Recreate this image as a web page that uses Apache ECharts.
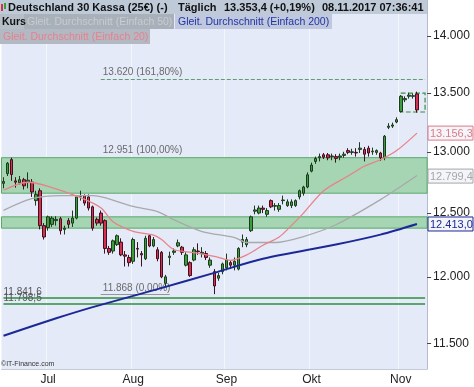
<!DOCTYPE html>
<html><head><meta charset="utf-8">
<script src="https://cdn.jsdelivr.net/npm/echarts@6/dist/echarts.min.js"></script>
<style>html,body{margin:0;padding:0;background:#fff}#c{width:474px;height:387px}</style>
</head><body><div id="c"></div><script>
// ---- data ----
const dates = ['16.06','19.06','20.06','21.06','22.06','23.06','26.06','27.06','28.06','29.06','30.06',
'03.07','04.07','05.07','06.07','07.07','10.07','11.07','12.07','13.07','14.07','17.07','18.07','19.07','20.07','21.07','24.07','25.07','26.07','27.07','28.07','31.07',
'01.08','02.08','03.08','04.08','07.08','08.08','09.08','10.08','11.08','14.08','15.08','16.08','17.08','18.08','21.08','22.08','23.08','24.08','25.08','28.08','29.08','30.08','31.08',
'01.09','04.09','05.09','06.09','07.09','08.09','11.09','12.09','13.09','14.09','15.09','18.09','19.09','20.09','21.09','22.09','25.09','26.09','27.09','28.09','29.09',
'02.10','03.10','04.10','05.10','06.10','09.10','10.10','11.10','12.10','13.10','16.10','17.10','18.10','19.10','20.10','23.10','24.10','25.10','26.10','27.10','30.10','31.10',
'01.11','02.11','03.11','06.11','07.11','08.11','09.11'];
// [open, close, low, high]
const kurs = [
[12740,12755,12700,12790],[12820,12905,12800,12915],[12935,12812,12760,12951],[12760,12750,12705,12790],[12745,12770,12730,12800],[12770,12720,12690,12785],[12750,12765,12700,12830],[12750,12670,12630,12775],[12600,12650,12560,12680],[12680,12400,12370,12700],[12400,12310,12290,12420],
[12385,12470,12360,12480],[12410,12460,12390,12475],[12440,12450,12400,12475],[12455,12360,12330,12470],[12370,12380,12330,12400],[12440,12410,12380,12460],[12420,12460,12390,12520],[12460,12630,12450,12640],[12635,12640,12600,12680],[12640,12580,12560,12650],[12630,12540,12520,12650],[12550,12380,12360,12560],[12450,12420,12400,12465],[12500,12420,12400,12520],[12440,12220,12180,12450],[12220,12190,12170,12240],[12200,12280,12180,12290],[12250,12320,12240,12330],[12270,12170,12160,12300],[12170,12160,12080,12200],[12150,12110,12080,12170],
[12120,12290,12100,12305],[12220,12215,12150,12270],[12180,12170,12080,12200],[12140,12300,12130,12320],[12320,12240,12230,12330],[12240,12290,12230,12310],[12210,12140,12120,12230],[12190,12000,11990,12200],[11950,12000,11930,12015],[12150,12160,12090,12195],[12190,12200,12170,12220],[12240,12265,12230,12290],[12230,12190,12170,12240],[12090,12170,12080,12190],[12110,12010,12000,12120],[12130,12210,12120,12230],[12200,12195,12170,12260],[12180,12190,12150,12230],[12180,12150,12130,12200],[12090,12130,12070,12150],[12040,11930,11868,12060],[11990,12010,11970,12030],[12040,12100,12020,12110],
[12070,12130,12050,12180],[12110,12090,12060,12130],[12090,12120,12050,12150],[12060,12220,12050,12230],[12270,12290,12230,12330],[12250,12290,12230,12310],[12360,12470,12350,12480],[12515,12525,12490,12560],[12500,12540,12490,12560],[12540,12530,12500,12560],[12490,12520,12470,12540],[12600,12550,12540,12610],[12555,12560,12520,12580],[12530,12560,12510,12580],[12600,12605,12570,12640],[12560,12590,12550,12610],[12560,12590,12540,12610],[12560,12600,12550,12610],[12630,12680,12610,12690],[12660,12710,12640,12720],[12710,12810,12700,12830],
[12840,12890,12830,12910],[12920,12945,12900,12960],[12950,12960,12920,12985],[12975,12955,12940,12990],[12975,12950,12930,12990],[12960,12965,12930,12985],[12960,12945,12910,12980],[12955,12965,12930,12985],[12970,12980,12950,13000],[13010,12995,12980,13030],[12995,13000,12975,13025],[12995,12990,12960,13030],[13020,13030,12990,13080],[13020,12980,12920,13040],[13030,12990,12960,13050],[13000,13005,12975,13035],[12995,13010,12975,13020],[12990,12950,12925,13000],[12950,13130,12930,13140],[13205,13215,13190,13240],[13215,13225,13200,13245],[13250,13270,13240,13290],
[13340,13470,13330,13480],[13440,13450,13420,13470],[13470,13480,13450,13500],[13470,13475,13450,13495],[13490,13353,13330,13510]
];
const ma20 = [['16.06',12684],['26.06',12749],['03.07',12716],['13.07',12624],['20.07',12542],['25.07',12431],['01.08',12355],['08.08',12325],['10.08',12290],['15.08',12212],['22.08',12188],['29.08',12159],['04.09',12128],['08.09',12170],['14.09',12245],['20.09',12310],['25.09',12400],['28.09',12500],['05.10',12680],['13.10',12800],['19.10',12880],['25.10',12934],['31.10',13010],['07.11',13156]];
const ma50 = [['16.06',12522],['27.06',12616],['06.07',12640],['18.07',12640],['21.07',12624],['01.08',12553],['09.08',12512],['15.08',12447],['24.08',12353],['05.09',12306],['08.09',12267],['19.09',12267],['28.09',12314],['10.10',12407],['25.10',12608],['07.11',12804]];
const ma200 = [['16.06',11556],['05.07',11686],['18.07',11770],['09.08',11906],['29.08',12031],['14.09',12140],['10.10',12251],['25.10',12329],['07.11',12413]];
const lastValues = [13156.3, 12799.4, 12413.0];
const yTicks = [11500,12000,12500,13000,13500,14000];
const yRange = [11313, 14326];
const monthTicks = {'03.07':'Jul','01.08':'Aug','01.09':'Sep','02.10':'Okt','01.11':'Nov'};
const bands = [[12951,12660],[12470,12380]];
const fibLevels = [13620, 12951, 11868];
const fibLabels = ['13.620 (161,80%)','12.951 (100,00%)','11.868 (0,00%)'];
const levels = [11841.6, 11798.5];
const boxHigh = 13497, boxLow = 13335;

// ---- chart ----
const L = Math.log;
function de(n, d){ const s = n.toFixed(d).split('.'); const i = s[0].replace(/\B(?=(\d{3})+(?!\d))/g,'.'); return d ? i+','+s[1] : i; }
const candleData = dates.map((d,i)=> i < kurs.length ? kurs[i].map(L) : '-');
const toLine = arr => arr.map(([d,v])=>[d, L(v)]);
const FONT = '"Liberation Sans", Arial, sans-serif';
const first = dates[0], last = dates[dates.length-1];

const chart = echarts.init(document.getElementById('c'), null, {renderer:'canvas'});
const levelLines = levels.map(v=>[
  {coord:[first, L(v)], lineStyle:{color:'#2f8f3f', width:1.6, type:'solid'},
   label:{show:true, position:'insideStartTop', formatter:de(v,1), color:'#555', fontSize:10, fontFamily:FONT, distance:[0,0]}},
  {coord:[last, L(v)]}]);
const option = {
  animation:false,
  grid:{left:1.5, top:0, width:425.6, height:369, show:true, backgroundColor:'#e4eaf8', borderWidth:0},
  xAxis:{type:'category', data:dates, boundaryGap:true,
    axisLine:{show:true, lineStyle:{color:'#c4cbd8'}}, axisTick:{show:false},
    axisLabel:{interval:(i,v)=> v in monthTicks, formatter:v=>monthTicks[v]||'', color:'#222', fontSize:12, margin:5, fontFamily:FONT},
    splitLine:{show:true, interval:(i,v)=> v in monthTicks, lineStyle:{color:'#f3f6fd', width:1}}},
  yAxis:{type:'value', position:'right', min:L(yRange[0]), max:L(yRange[1]),
    splitLine:{show:false},
    axisLine:{show:true, lineStyle:{color:'#b4bccc'}},
    axisTick:{show:true, length:4, customValues:yTicks.map(L), lineStyle:{color:'#444'}},
    axisLabel:{customValues:yTicks.map(L), formatter:v=>de(Math.round(Math.exp(v)),0), color:'#222', fontSize:12, margin:6, fontFamily:FONT}},
  series:[
    {type:'line', data:[], z:1, silent:true,
      markArea:{silent:true, data:[
        ...bands.map(b=>[{yAxis:L(b[0]), itemStyle:{color:'#a5d5b3', borderColor:'#5aa86c', borderWidth:1}},{yAxis:L(b[1])}]),
        [{coord:['01.11', L(boxHigh)], itemStyle:{color:'rgba(0,0,0,0)', borderColor:'#3c8c3c', borderWidth:1.2, borderType:'dashed'}},{coord:[last, L(boxLow)]}]
      ]},
      markLine:{silent:true, symbol:['none','none'], data:[
        [{coord:['20.07', L(fibLevels[0])], lineStyle:{color:'#5aa070', type:'dashed', width:1},
          label:{show:true, position:'insideStartTop', formatter:fibLabels[0], color:'#6a6a6a', fontSize:10, fontFamily:FONT, distance:[2,2]}},
         {coord:[last, L(fibLevels[0])]}],
        [{coord:['20.07', L(fibLevels[1])], lineStyle:{color:'rgba(0,0,0,0)', width:1},
          label:{show:true, position:'insideStartTop', formatter:fibLabels[1], color:'#6a6a6a', fontSize:10, fontFamily:FONT, distance:[2,2]}},
         {coord:['14.08', L(fibLevels[1])]}],
        [{coord:['20.07', L(fibLevels[2])], lineStyle:{color:'#808080', type:'solid', width:0.8},
          label:{show:true, position:'insideStartTop', formatter:fibLabels[2], color:'#6a6a6a', fontSize:10, fontFamily:FONT, distance:[2,1]}},
         {coord:['14.08', L(fibLevels[2])]}],
        ...levelLines
      ]}
    },
    {type:'candlestick', data:candleData, barWidth:3, z:3,
      itemStyle:{color:'#3c9d3c', color0:'#d4304f', borderColor:'#1e3a1e', borderColor0:'#401020', borderWidth:1}},
    {type:'line', data:toLine(ma50), smooth:0.3, symbol:'none', z:4, lineStyle:{color:'#a9a9a9', width:1.3}},
    {type:'line', data:toLine(ma20), smooth:0.3, symbol:'none', z:4, lineStyle:{color:'#e8828a', width:1.3}},
    {type:'line', data:toLine(ma200), smooth:0.3, symbol:'none', z:5, lineStyle:{color:'#1c2896', width:2}}
  ]
};
chart.setOption(option);

// header, legend, value boxes
const g = [
  {type:'rect', shape:{x:0,y:0,width:427,height:14}, style:{fill:'#bfcad9'}, z:10},
  {type:'rect', shape:{x:1,y:4,width:2,height:7}, style:{fill:'#d4304f'}, z:11},
  {type:'rect', shape:{x:4,y:3,width:2,height:6}, style:{fill:'#3c9d3c'}, z:11},
  {type:'text', style:{text:'Deutschland 30 Kassa (25€) (-)', x:8, y:7.5, verticalAlign:'middle', fill:'#111', font:'bold 11px '+FONT}, z:11},
  {type:'text', style:{text:'Täglich', x:178, y:7.5, verticalAlign:'middle', fill:'#111', font:'bold 11px '+FONT}, z:11},
  {type:'text', style:{text:'13.353,4 (+0,19%)', x:224, y:7.5, verticalAlign:'middle', fill:'#111', font:'bold 11px '+FONT}, z:11},
  {type:'text', style:{text:'08.11.2017 07:36:41', x:322, y:7.5, verticalAlign:'middle', fill:'#111', font:'bold 11px '+FONT}, z:11},
  {type:'rect', shape:{x:0,y:14,width:24,height:15}, style:{fill:'#b6bec8'}, z:10},
  {type:'text', style:{text:'Kurs', x:2, y:22, verticalAlign:'middle', fill:'#111', font:'bold 10.5px '+FONT}, z:11},
  {type:'rect', shape:{x:24,y:14,width:150,height:15}, style:{fill:'#a8b0b9'}, z:10},
  {type:'text', style:{text:'Gleit. Durchschnitt (Einfach 50)', x:27, y:22, verticalAlign:'middle', fill:'#c9ccd0', font:'10.5px '+FONT}, z:11},
  {type:'rect', shape:{x:175,y:14,width:157,height:15}, style:{fill:'#bfc8dd'}, z:10},
  {type:'text', style:{text:'Gleit. Durchschnitt (Einfach 200)', x:178, y:22, verticalAlign:'middle', fill:'#2434a4', font:'10.5px '+FONT}, z:11},
  {type:'rect', shape:{x:0,y:29,width:150,height:15}, style:{fill:'#b3b9c2'}, z:10},
  {type:'text', style:{text:'Gleit. Durchschnitt (Einfach 20)', x:3, y:37, verticalAlign:'middle', fill:'#e8808e', font:'10.5px '+FONT}, z:11},
  {type:'text', style:{text:'©IT-Finance.com', x:1, y:364.5, verticalAlign:'middle', fill:'#333', font:'7px '+FONT}, z:11}
];
const boxColors = ['#e07a86','#a6a6a6','#1c2896'];
lastValues.forEach((v,i)=>{
  const py = chart.convertToPixel({yAxisIndex:0}, L(v));
  g.push({type:'rect', shape:{x:428,y:py-7,width:45,height:14}, style:{fill:'#f3f5fa', stroke:boxColors[i], lineWidth:1}, z:12});
  g.push({type:'text', style:{text:de(v,1), x:430, y:py+0.5, verticalAlign:'middle', fill:boxColors[i], font:'11px '+FONT}, z:13});
});
chart.setOption({graphic:g});
</script></body></html>
